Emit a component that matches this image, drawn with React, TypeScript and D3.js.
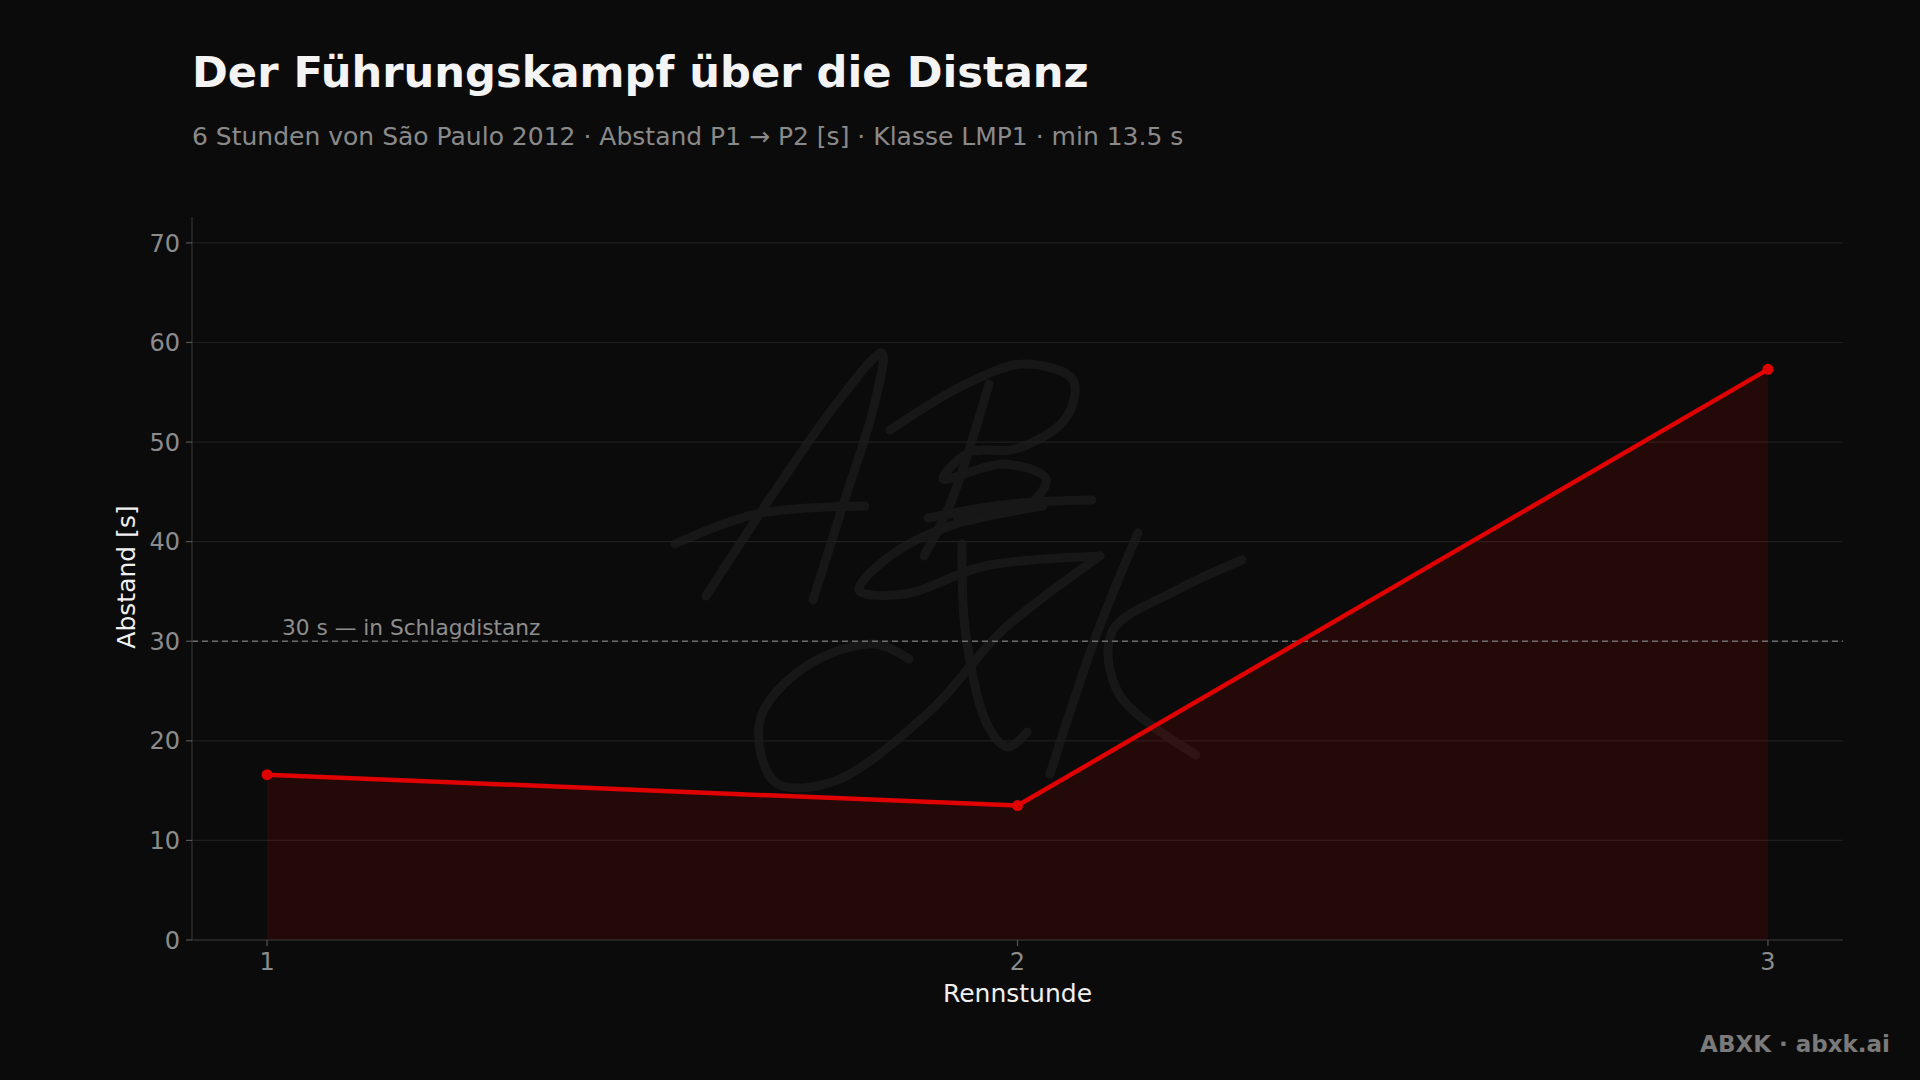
import React from "react";
import * as d3 from "d3";

const hours = [1, 2, 3];
const gaps = [16.6, 13.5, 57.3];
const yTicks = [0, 10, 20, 30, 40, 50, 60, 70];
const xTicks = [1, 2, 3];
const refValue = 30;
const refLabel = "30 s — in Schlagdistanz";
const title = "Der Führungskampf über die Distanz";
const subtitle = "6 Stunden von São Paulo 2012 · Abstand P1 → P2 [s] · Klasse LMP1 · min 13.5 s";
const xLabel = "Rennstunde";
const yLabel = "Abstand [s]";
const brand = "ABXK · abxk.ai";

// decorative signature watermark strokes (not data)
const sigStrokes: [number, number][][] = [
  [[706, 596], [775, 491], [840, 399], [882, 353], [874, 406], [844, 502], [813, 600]],
  [[675, 544], [756, 514], [865, 506]],
  [[989, 384], [951, 502], [924, 556]],
  [[890, 430], [966, 384], [1024, 364], [1073, 380], [1066, 418], [1016, 449], [970, 452], [943, 479], [1004, 464], [1046, 479], [1027, 506], [958, 518]],
  [[1092, 500], [1010, 504], [928, 518]],
  [[1043, 506], [950, 526], [890, 556], [859, 590], [905, 594], [985, 566], [1100, 556]],
  [[909, 659], [874, 644], [805, 667], [760, 720], [775, 782], [832, 782], [928, 713], [1004, 629], [1100, 556]],
  [[962, 544], [966, 636], [989, 728], [1008, 747], [1027, 732]],
  [[1138, 533], [1096, 636], [1050, 774]],
  [[1242, 560], [1177, 590], [1112, 632], [1119, 694], [1196, 755]],
];

const W = 1920;
const H = 1080;
const left = 192;
const right = 1843;
const top = 217;
const bottom = 940;

export default function App() {
  const x = d3.scaleLinear().domain([0.9, 3.1]).range([left, right]);
  const y = d3.scaleLinear().domain([0, 72.6]).range([bottom, top]);
  const pts = hours.map((h, i) => ({ h, v: gaps[i] }));
  const line = d3.line<{ h: number; v: number }>().x((d) => x(d.h)).y((d) => y(d.v));
  const area = d3
    .area<{ h: number; v: number }>()
    .x((d) => x(d.h))
    .y0(y(0))
    .y1((d) => y(d.v));
  const sigLine = d3.line<[number, number]>().curve(d3.curveCatmullRom.alpha(0.5));
  const font = "'DejaVu Sans', sans-serif";

  return (
    <div style={{ position: "absolute", left: 0, top: 0, width: W, height: H }}>
      <svg width={W} height={H} viewBox={`0 0 ${W} ${H}`} style={{ display: "block" }}>
        <rect x={0} y={0} width={W} height={H} fill="#0b0b0b" />
        <g fill="none" stroke="#171717" strokeWidth={9} strokeLinecap="round" strokeLinejoin="round">
          {sigStrokes.map((s, i) => (
            <path key={i} d={sigLine(s) || ""} />
          ))}
        </g>
        <text x={192} y={87} fill="#f4f4f4" fontFamily={font} fontWeight="bold" fontSize={43.2}>
          {title}
        </text>
        <text x={192} y={145} fill="#8a8a8a" fontFamily={font} fontSize={25}>
          {subtitle}
        </text>
        {yTicks.map((t) => (
          <line key={"g" + t} x1={left} x2={right} y1={y(t)} y2={y(t)} stroke="#1e1e1e" strokeWidth={1.2} />
        ))}
        <path d={area(pts) || ""} fill="#e00000" fillOpacity={0.12} />
        <line x1={left} x2={right} y1={y(refValue)} y2={y(refValue)} stroke="#6e6e6e" strokeWidth={1.4} strokeDasharray="6,4" />
        <text x={282} y={635} fill="#8e8e8e" fontFamily={font} fontSize={21.7}>
          {refLabel}
        </text>
        <line x1={left} x2={left} y1={top} y2={bottom} stroke="#333" strokeWidth={1.2} />
        <line x1={left} x2={right} y1={bottom} y2={bottom} stroke="#333" strokeWidth={1.2} />
        {yTicks.map((t) => (
          <g key={"y" + t}>
            <line x1={left - 6} x2={left} y1={y(t)} y2={y(t)} stroke="#555" strokeWidth={1.2} />
            <text x={left - 12} y={y(t)} dy="0.36em" textAnchor="end" fill="#8c8c8c" fontFamily={font} fontSize={24}>
              {t}
            </text>
          </g>
        ))}
        {xTicks.map((t) => (
          <g key={"x" + t}>
            <line x1={x(t)} x2={x(t)} y1={bottom} y2={bottom + 6} stroke="#555" strokeWidth={1.2} />
            <text x={x(t)} y={970} textAnchor="middle" fill="#8c8c8c" fontFamily={font} fontSize={24}>
              {t}
            </text>
          </g>
        ))}
        <text x={x(2)} y={1002} textAnchor="middle" fill="#f0f0f0" fontFamily={font} fontSize={25}>
          {xLabel}
        </text>
        <text
          transform={`translate(135, ${577}) rotate(-90)`}
          textAnchor="middle"
          fill="#f0f0f0"
          fontFamily={font}
          fontSize={25}
        >
          {yLabel}
        </text>
        <path d={line(pts) || ""} fill="none" stroke="#e00000" strokeWidth={4.5} strokeLinejoin="round" />
        {pts.map((p) => (
          <circle key={p.h} cx={x(p.h)} cy={y(p.v)} r={5.5} fill="#e00000" />
        ))}
        <text x={1890} y={1052} textAnchor="end" fill="#7a7a7a" fontFamily={font} fontWeight="bold" fontSize={23}>
          {brand}
        </text>
      </svg>
    </div>
  );
}
